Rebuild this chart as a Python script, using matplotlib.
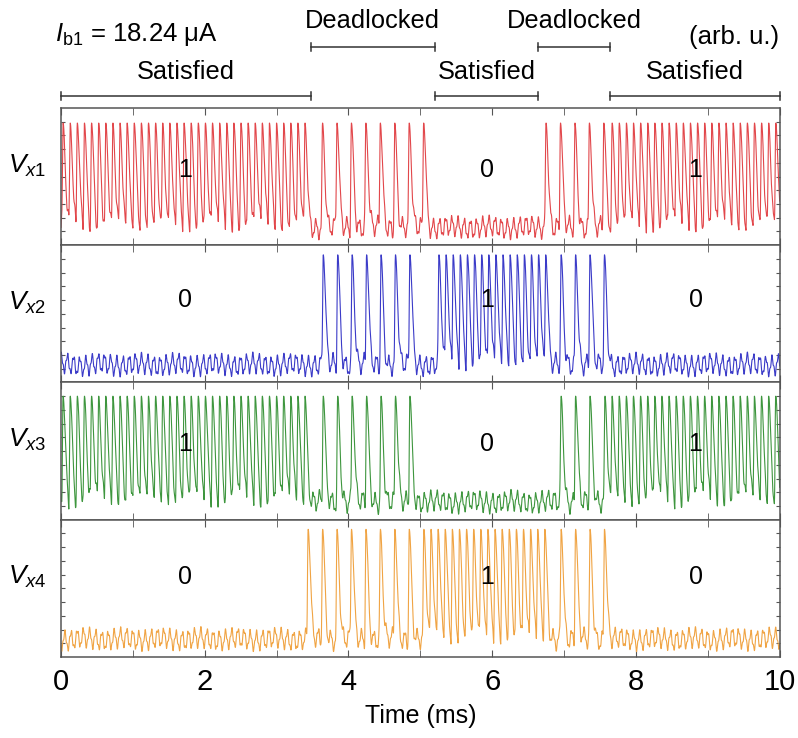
import numpy as np
import matplotlib
matplotlib.use('Agg')
import matplotlib.pyplot as plt
from matplotlib.transforms import blended_transform_factory

plt.rcParams['font.family'] = ['Liberation Sans', 'DejaVu Sans']
plt.rcParams['mathtext.fontset'] = 'custom'
plt.rcParams['mathtext.rm'] = 'Liberation Sans'
plt.rcParams['mathtext.it'] = 'Liberation Sans:italic'

# Signals: (start ms, end ms, mode)
names = [r'$V_{x1}$', r'$V_{x2}$', r'$V_{x3}$', r'$V_{x4}$']
colors = ['#e2474b', '#3b3bc8', '#3e963e', '#f0a444']
segs_x1 = [(0.03, 3.46, 'fast'), (3.64, 5.06, 'slow'), (5.1, 6.7, 'low'),
           (6.75, 7.57, 'slow'), (7.67, 9.98, 'fast')]
segs_x2 = [(0.0, 3.6, 'low'), (3.65, 5.05, 'slow'), (5.26, 6.75, 'fast'),
           (6.96, 7.57, 'slow'), (7.6, 10.0, 'low')]
segs_x3 = [(0.03, 3.46, 'fast'), (3.65, 5.05, 'slow'), (5.1, 6.9, 'low'),
           (6.96, 7.38, 'slow'), (7.57, 9.98, 'fast')]
segs_x4 = [(0.0, 3.4, 'low'), (3.44, 4.85, 'slow'), (5.05, 6.75, 'fast'),
           (6.96, 7.57, 'slow'), (7.6, 10.0, 'low')]
segments = [segs_x1, segs_x2, segs_x3, segs_x4]
periods = {'fast': 0.099, 'slow': 0.201}
peak_level = [0.89, 0.93, 0.9, 0.93]

# Logic states in each panel
state_x = [1.72, 5.93, 8.83]
states = [['1', '0', '1'], ['0', '1', '0'], ['1', '0', '1'], ['0', '1', '0']]
state_y = [0.55, 0.6, 0.55, 0.58]

# Phases above the chart
phase_edges = [0, 3.48, 5.2, 6.64, 7.64, 10]
phase_names = ['Satisfied', 'Deadlocked', 'Satisfied', 'Deadlocked', 'Satisfied']

t = np.linspace(0, 10, 20001)


def trace(segs, k, peak):
    base = (0.13 + 0.06 * np.sin(2 * np.pi * t / 0.086 + k)
            + 0.02 * np.sin(2 * np.pi * t / 0.031 + 0.7 * k)
            + 0.012 * np.sin(2 * np.pi * t / 0.53 + k))
    pulse = np.zeros_like(t)
    for s, e, mode in segs:
        if mode == 'low':
            continue
        for ts in np.arange(s, e + 1e-6, periods[mode]):
            dt = t - ts
            m = np.abs(dt) < 0.15
            d = dt[m]
            p = np.where(d < 0, np.exp(-np.abs(d / 0.012) ** 2.5),
                         np.exp(-np.abs(d / 0.042) ** 1.9))
            pulse[m] = np.maximum(pulse[m], p)
    return base + pulse * (peak - base)


fig = plt.figure(figsize=(7.98, 7.38), dpi=100)
gs = fig.add_gridspec(4, 1, left=0.0764, right=0.977, top=0.8537,
                      bottom=0.1098, hspace=0)
axes = [fig.add_subplot(gs[i]) for i in range(4)]

for i, ax in enumerate(axes):
    ax.plot(t, trace(segments[i], i * 1.3, peak_level[i]), color=colors[i],
            lw=0.8)
    ax.set_xlim(0, 10)
    ax.set_ylim(0, 1)
    ax.set_yticks(np.arange(0.1, 0.95, 0.1))
    ax.set_yticklabels([])
    ax.set_xticks(range(0, 11, 2))
    ax.set_xticks(range(1, 10, 2), minor=True)
    ax.tick_params(axis='both', which='both', direction='in', top=True,
                   right=True, color='#555555')
    ax.tick_params(axis='x', which='both', length=5)
    ax.tick_params(axis='y', length=3)
    for sp in ax.spines.values():
        sp.set_color('#555555')
        sp.set_linewidth(1.1)
    if i < 3:
        ax.set_xticklabels([])
    for x, s in zip(state_x, states[i]):
        ax.text(x, state_y[i], s, fontsize=18, ha='center', va='center')
    ax.text(-0.047, 0.58, names[i], transform=ax.transAxes, fontsize=19,
            ha='center', va='center')

axes[3].tick_params(axis='x', labelsize=21, pad=8)
axes[3].set_xlabel('Time (ms)', fontsize=18, labelpad=6)

# phase brackets
top = axes[0]
tr = blended_transform_factory(top.transData, fig.transFigure)
for j, name in enumerate(phase_names):
    a, b = phase_edges[j], phase_edges[j + 1]
    if name == 'Satisfied':
        yl, yt = 1 - 96 / 738, 1 - 72 / 738
    else:
        yl, yt = 1 - 47 / 738, 1 - 21 / 738
    top.plot([a, b], [yl, yl], color='#333333', lw=1.1, transform=tr,
             clip_on=False)
    for xe in (a, b):
        top.plot([xe, xe], [yl - 0.006, yl + 0.006], color='#333333', lw=1.1,
                 transform=tr, clip_on=False)
    top.text((a + b) / 2, yt, name, transform=tr, fontsize=18.3, ha='center',
             va='center')

fig.text(55 / 798, 1 - 35 / 738, r'$I_{\mathrm{b1}}$ = 18.24 μA', fontsize=18.5,
         ha='left', va='center')
fig.text(734 / 798, 1 - 37 / 738, '(arb. u.)', fontsize=18.5, ha='center',
         va='center')

fig.savefig('out.png', dpi=100)
